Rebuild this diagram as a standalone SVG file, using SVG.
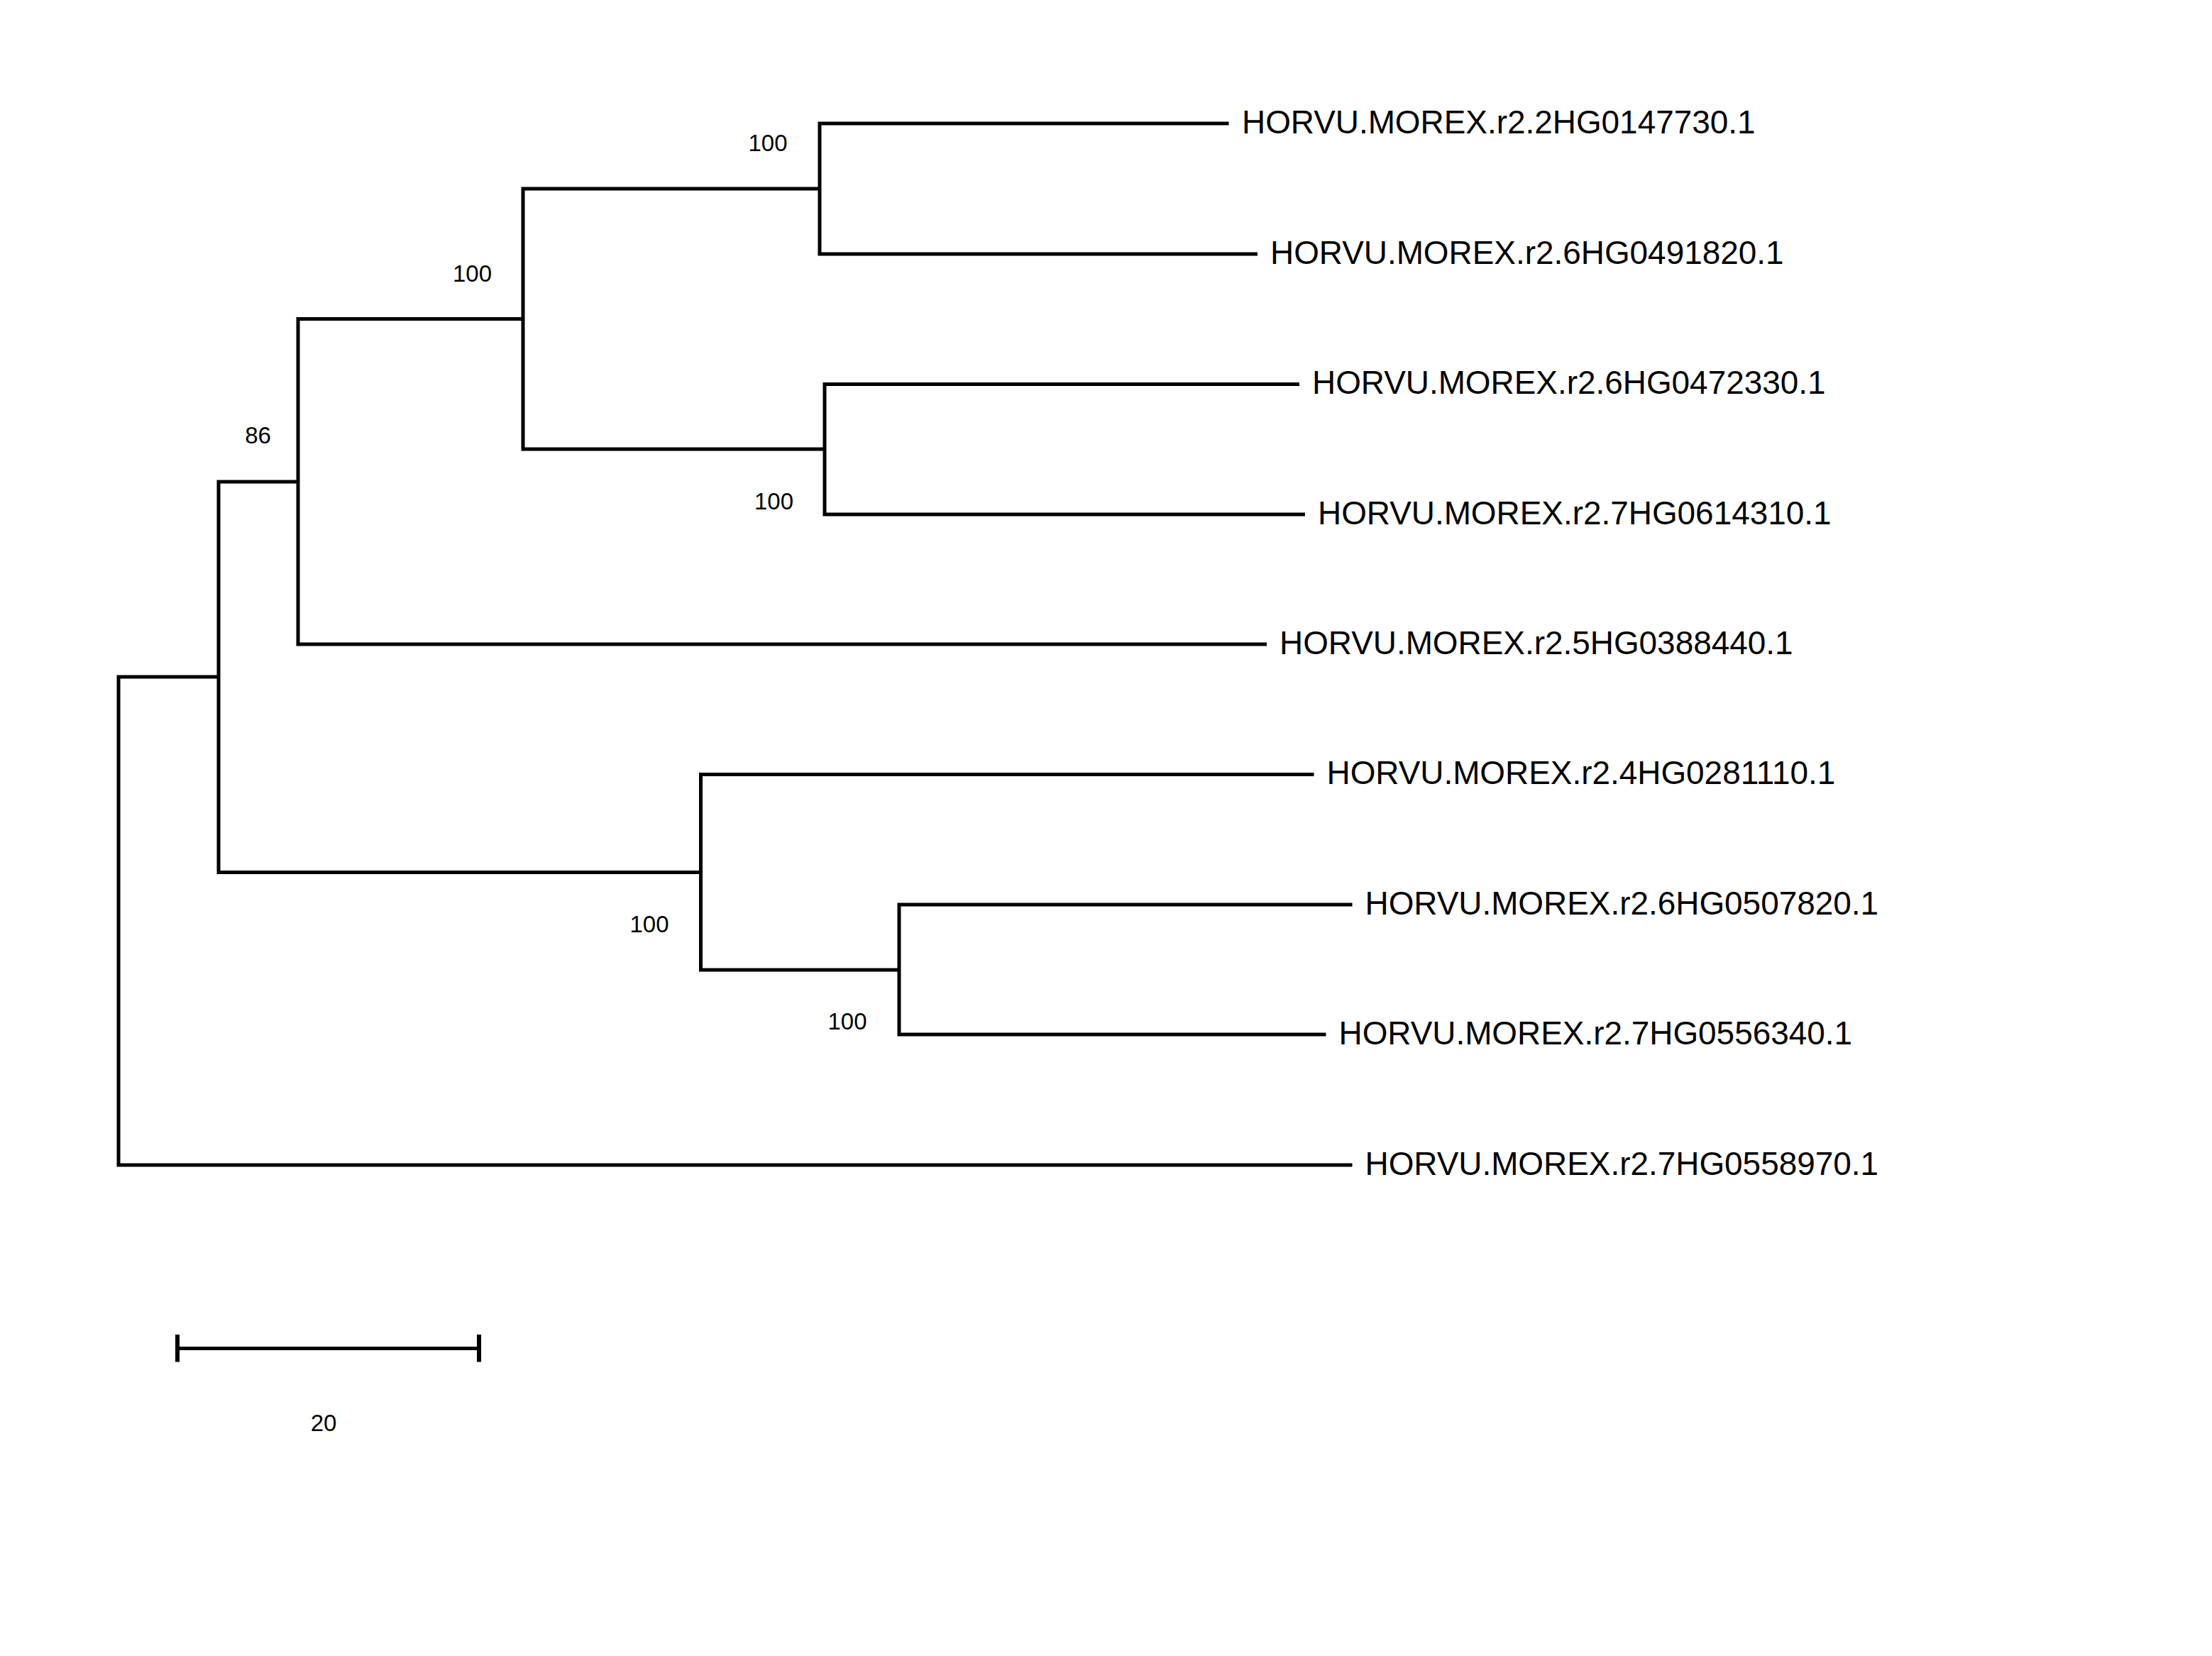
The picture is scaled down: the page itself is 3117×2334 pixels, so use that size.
<svg xmlns="http://www.w3.org/2000/svg" width="3117" height="2334" viewBox="0 0 3117 2334">
<style>
.br{fill:none;stroke:#000;stroke-width:5;stroke-linejoin:miter;stroke-linecap:butt}
.tick{fill:none;stroke:#000;stroke-width:6}
.leaf{font-family:"Liberation Sans",Arial,sans-serif;font-size:45.9px;fill:#000}
.bs{font-family:"Liberation Sans",Arial,sans-serif;font-size:33px;fill:#000;text-anchor:middle}
</style>
<rect width="3117" height="2334" fill="#fff"/>
<g id="connectors">
<path class="br" d="M308,954 H167 V1642 H1905.5"/>
<path class="br" d="M420,679 H308 V1229.5 H987.5"/>
<path class="br" d="M737,449.5 H420 V908 H1785"/>
<path class="br" d="M1155,266 H737 V633 H1162"/>
<path class="br" d="M1731.5,174 H1155 V358 H1772"/>
<path class="br" d="M1831,541.5 H1162 V725 H1839"/>
<path class="br" d="M1851.5,1091.5 H987.5 V1367 H1267"/>
<path class="br" d="M1905.5,1275 H1267 V1458 H1868.5"/>
</g>
<g id="leaf1"><text class="leaf" x="1750" y="187.5">HORVU.MOREX.r2.2HG0147730.1</text></g>
<g id="leaf2"><text class="leaf" x="1790" y="371.5">HORVU.MOREX.r2.6HG0491820.1</text></g>
<g id="leaf3"><text class="leaf" x="1849" y="555">HORVU.MOREX.r2.6HG0472330.1</text></g>
<g id="leaf4"><text class="leaf" x="1857" y="738.5">HORVU.MOREX.r2.7HG0614310.1</text></g>
<g id="leaf5"><text class="leaf" x="1803" y="921.5">HORVU.MOREX.r2.5HG0388440.1</text></g>
<g id="leaf6"><text class="leaf" x="1869.5" y="1105">HORVU.MOREX.r2.4HG0281110.1</text></g>
<g id="leaf7"><text class="leaf" x="1923.5" y="1288.5">HORVU.MOREX.r2.6HG0507820.1</text></g>
<g id="leaf8"><text class="leaf" x="1886.5" y="1471.5">HORVU.MOREX.r2.7HG0556340.1</text></g>
<g id="leaf9"><text class="leaf" x="1923.5" y="1655.5">HORVU.MOREX.r2.7HG0558970.1</text></g>
<g id="bootstrap">
<text class="bs" x="1082" y="213">100</text>
<text class="bs" x="665.5" y="396.5">100</text>
<text class="bs" x="363.5" y="625">86</text>
<text class="bs" x="1090.5" y="717.5">100</text>
<text class="bs" x="915" y="1314">100</text>
<text class="bs" x="1194" y="1450.5">100</text>
</g>
<g id="scalebar">
<path class="br" d="M250,1900.5 H675"/>
<path class="tick" d="M250,1881 V1919.5 M675,1881 V1919.5"/>
<text class="bs" x="456" y="2016.5">20</text>
</g>
</svg>
